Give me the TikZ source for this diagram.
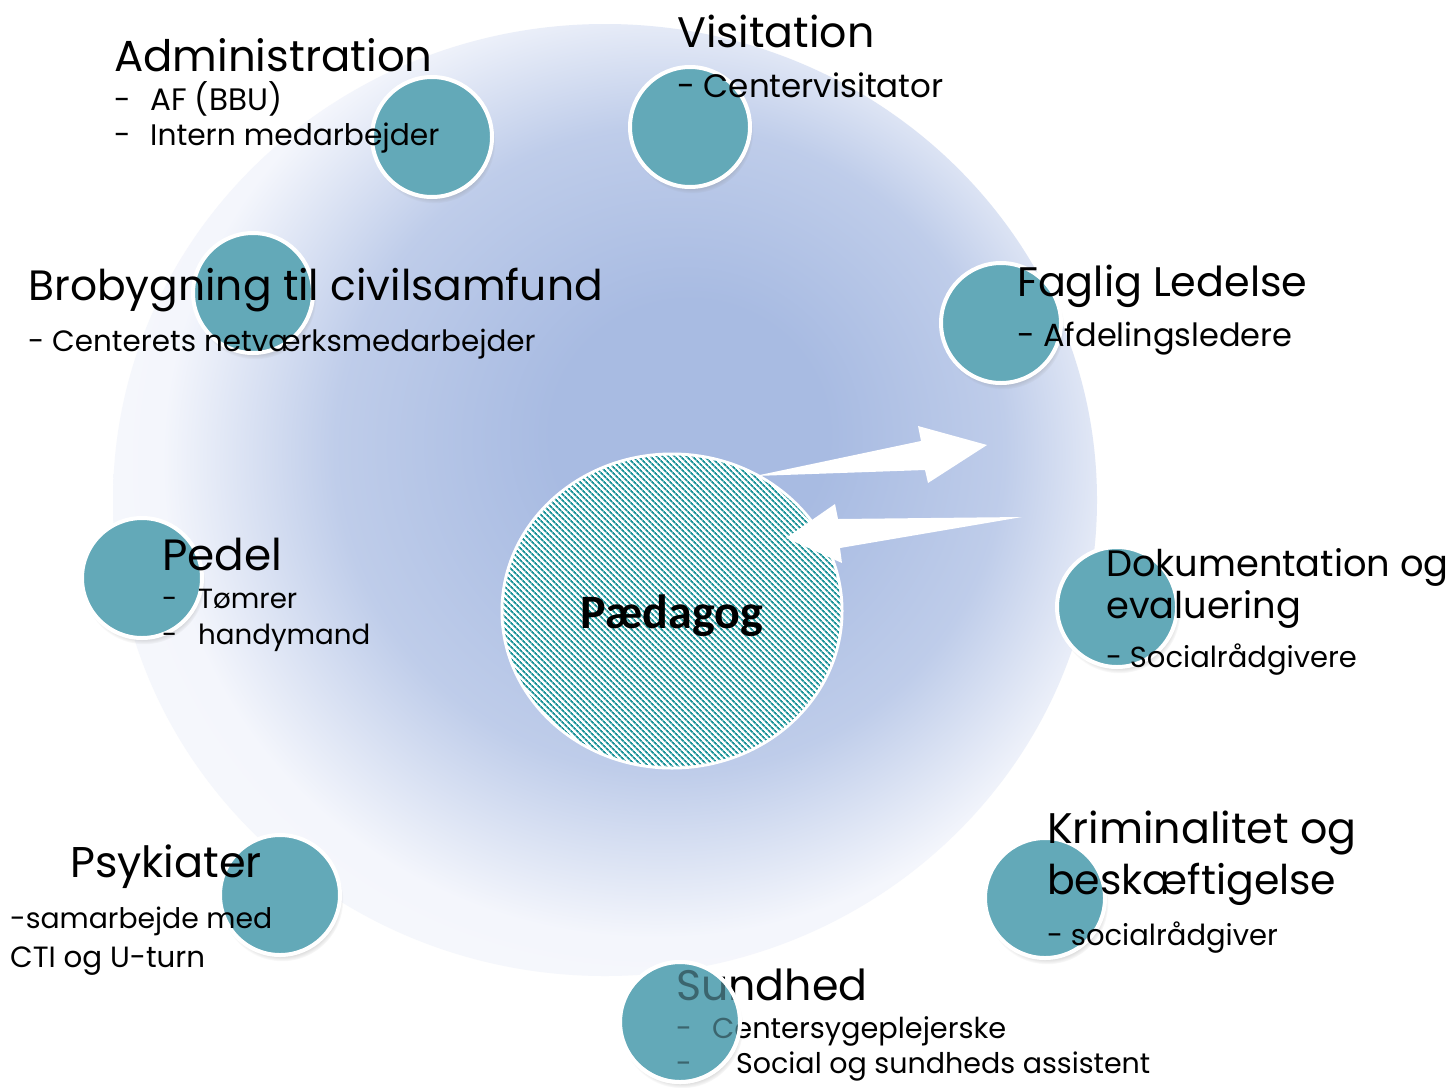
\documentclass[tikz,border=0pt]{standalone}
\usepackage{fontspec}
\setmainfont{Poppins}
\newfontfamily\centerfont{Carlito}
\usetikzlibrary{shadows,patterns.meta,shapes.geometric}

\definecolor{bgblue}{HTML}{A8BBE2}
\definecolor{bgedge}{HTML}{F4F6FC}
\definecolor{teal}{HTML}{63A9B8}
\definecolor{hatch}{HTML}{1A9298}

% soft blue glow behind the diagram
\pgfdeclareradialshading{glow}{\pgfpoint{5bp}{4bp}}{%
  color(0bp)=(bgblue); color(7bp)=(bgblue); color(17bp)=(bgblue!70!bgedge);
  color(25bp)=(bgedge); color(50bp)=(white)}

\tikzset{
  member/.style={circle, minimum size=120pt, inner sep=0pt, fill=teal,
    draw=white, line width=4pt,
    circular drop shadow={shadow xshift=2pt, shadow yshift=-5pt, opacity=.45, shadow scale=1.02}},
  veil/.style={circle, minimum size=120pt, inner sep=0pt, fill=teal, fill opacity=.6,
    draw=white, draw opacity=1, line width=4pt},
  head/.style={anchor=base west, inner sep=0pt, font=\fontsize{#1}{#1}\selectfont},
  head/.default=42.5,
  sub/.style={anchor=base west, inner sep=0pt, font=\fontsize{#1}{#1}\selectfont},
  sub/.default=29,
  whitearrow/.style={fill=white, draw=none}
}

\begin{document}
\begin{tikzpicture}[x=1pt,y=-1pt]
\useasboundingbox (0,0) rectangle (1455,1087);
\fill[white] (0,0) rectangle (1455,1087);

% background glow
\path[shading=glow] (605,500) ellipse [x radius=492, y radius=476];

% outer members
\node[member] (adm) at (432,137) {};
\node[member] (vis) at (690,127) {};
\node[member] (bro) at (253,293) {};
\node[member] (fag) at (1001,323) {};
\node[member] (ped) at (142,578) {};
\node[member] (dok) at (1117,607) {};
\node[member] (psy) at (280,895) {};
\node[member] (kri) at (1045,898) {};
\node[member] (sun) at (680,1022) {};

% centre: hatched disc with a thin white rim
\node[ellipse, minimum width=340pt, minimum height=314pt, inner sep=0pt,
      fill=white, draw=white, line width=3pt] (core) at (672,611) {};
\fill[pattern={Lines[angle=-45,distance=4pt,line width=1.8pt]}, pattern color=hatch]
  (672,611) ellipse [x radius=168.5, y radius=155.5];
\node[inner sep=0pt, anchor=base, font=\centerfont\bfseries\fontsize{48}{52}\selectfont] (paed) at (672,628) {Pædagog};

% arrows between the centre and the surroundings
\coordinate (outtail) at (755,476);
\coordinate (outtip) at (987,445);
\fill[whitearrow] (outtail) -- (921,441) -- (918,426) -- (outtip) -- (928,483) -- (925,470) -- cycle;
\coordinate (intail) at (1022,517);
\coordinate (intip) at (786,538);
\fill[whitearrow] (intail) -- (838,519) -- (835,504) -- (intip) -- (842,563) -- (840,548) -- cycle;

% labels
\node[head=43.4] (tadm) at (114,71) {Administration};
\node[sub=30] at (114,110) {-};
\node[sub=31] at (150,110) {AF (BBU)};
\node[sub=30] at (114,145) {-};
\node[sub=29.7] at (150,145) {Intern medarbejder};

\node[head=42.7] (tvis) at (677,47) {Visitation};
\node[sub=32.5] at (677,97) {- Centervisitator};

\node[head=42.4] (tbro) at (28,300) {Brobygning til civilsamfund};
\node[sub=29.4] at (28,351) {- Centerets netværksmedarbejder};

\node[head=41.3] (tfag) at (1017,296) {Faglig Ledelse};
\node[sub=32] at (1017,346) {- Afdelingsledere};

\node[head=43.8] (tped) at (162,570) {Pedel};
\node[sub=27.7] at (162,608) {-};
\node[sub=27.7] at (198,608) {Tømrer};
\node[sub=27.7] at (162,644) {-};
\node[sub=27.7] at (198,644) {handymand};

\node[head=36.8] (tdok) at (1106,576) {Dokumentation og};
\node[head=36.8] at (1106,618) {evaluering};
\node[sub=29] at (1106,667) {- Socialrådgivere};

\node[head=42.8] (tkri) at (1047,843) {Kriminalitet og};
\node[head=41] at (1047,894) {beskæftigelse};
\node[sub=29] at (1047,945) {- socialrådgiver};

\node[head=43] (tpsy) at (70,877) {Psykiater};
\node[sub=28.3] at (10,928) {-samarbejde med};
\node[sub=29.3] at (10,967) {CTI og U-turn};

\node[head=42.7] (tsun) at (676,1000) {Sundhed};
\node[sub=28.8] at (676,1038) {-};
\node[sub=28.8] at (712,1038) {Centersygeplejerske};
\node[sub=28.5] at (676,1073) {-};
\node[sub=28.5] at (736,1073) {Social og sundheds assistent};

% the Sundhed disc is laid over its own label
\node[veil] at (sun) {};
\end{tikzpicture}
\end{document}
